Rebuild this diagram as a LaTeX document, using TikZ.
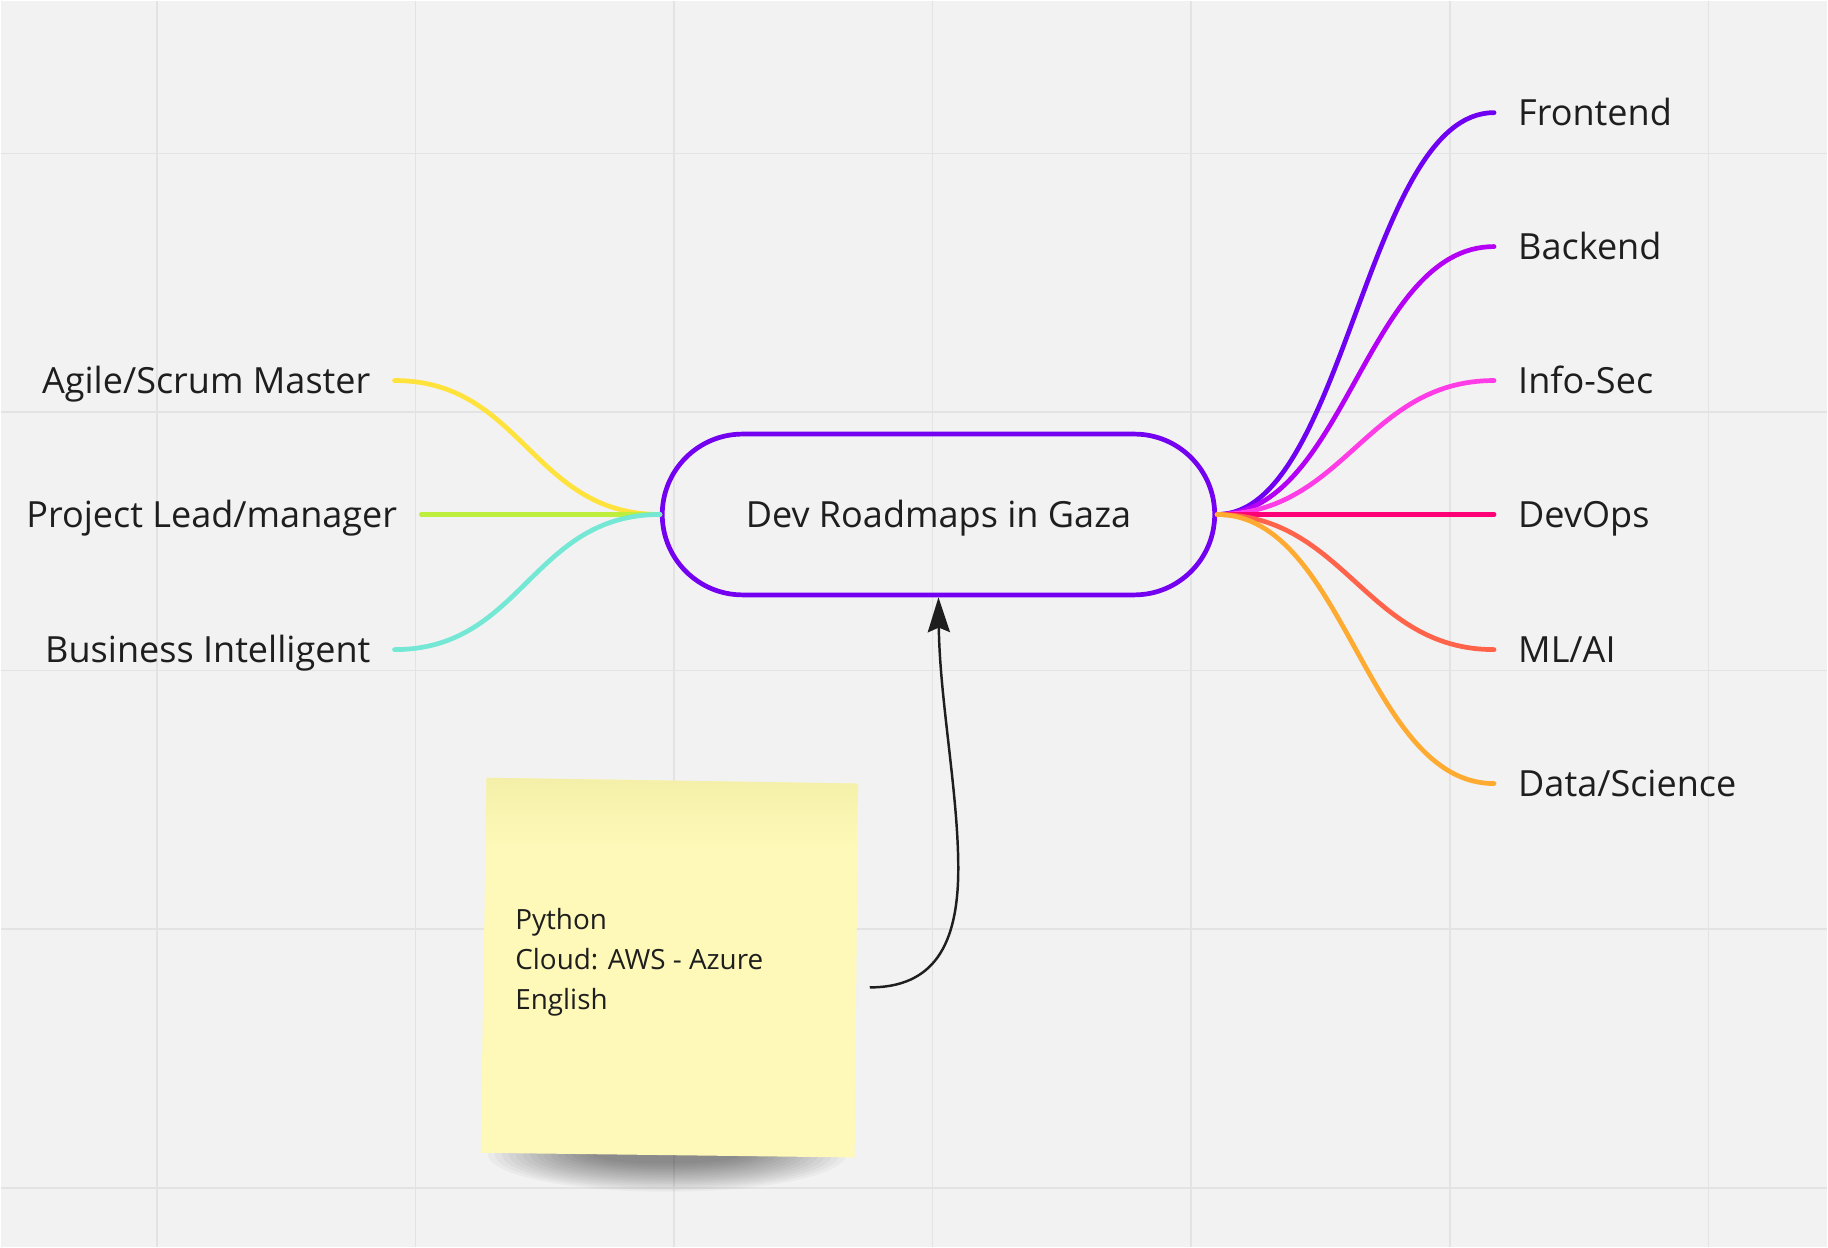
\documentclass[tikz,border=0pt]{standalone}
\usepackage{fontspec}
\setmainfont{Open Sans}
\usepackage{xcolor}
\usepackage{tikz}
\usetikzlibrary{arrows.meta,positioning}
\definecolor{board}{HTML}{F2F2F2}
\definecolor{gridline}{HTML}{E3E3E3}
\definecolor{ink}{HTML}{1E1E1E}
\definecolor{cdev}{HTML}{7300F0}
\definecolor{cfront}{HTML}{7000F2}
\definecolor{cback}{HTML}{B400F5}
\definecolor{csec}{HTML}{FF3CE6}
\definecolor{cops}{HTML}{FF0077}
\definecolor{cml}{HTML}{FF634A}
\definecolor{cdata}{HTML}{FFAA30}
\definecolor{cagile}{HTML}{FFE23C}
\definecolor{clead}{HTML}{BEEF3E}
\definecolor{cbi}{HTML}{74E8D4}
\definecolor{cnote}{HTML}{FEF9B8}
\definecolor{cnotetop}{HTML}{F4EFA8}

\begin{document}
\begin{tikzpicture}[x=0.01cm, y=-0.01cm,
    branch/.style={line width=1.15pt, line cap=round},
    leaf/.style={font=\fontsize{8.8}{10}\selectfont, text=ink, inner xsep=0.2cm, inner ysep=0pt, text height=6.2pt, text depth=0pt}]
    % board with grid
    \fill[board] (0,0) rectangle (1568,1070);
    \foreach \gx in {134,356,...,1466} \draw[gridline, line width=0.4pt] (\gx,0) -- (\gx,1070);
    \foreach \gy in {131,353,...,1019} \draw[gridline, line width=0.4pt] (0,\gy) -- (1568,\gy);

    \node[draw=cdev, line width=1.15pt, rounded corners=0.69cm, minimum width=4.74cm, minimum height=1.38cm, font=\fontsize{8.8}{10}\selectfont, text=ink, text height=6.2pt, text depth=0pt] (dev) at (805,441) {Dev Roadmaps in Gaza};

    % right branches
    \node[leaf, anchor=west] (front) at (1282,96) {Frontend};
    \node[leaf, anchor=west] (back) at (1282,211) {Backend};
    \node[leaf, anchor=west] (sec) at (1282,326) {Info-Sec};
    \node[leaf, anchor=west] (ops) at (1282,441) {DevOps};
    \node[leaf, anchor=west] (ml) at (1282,557) {ML/AI};
    \node[leaf, anchor=west] (data) at (1282,672) {Data/Science};
    \draw[branch, cfront] (dev.east) .. controls +(110,0) and +(-110,0) .. (front.west);
    \draw[branch, cback] (dev.east) .. controls +(110,0) and +(-110,0) .. (back.west);
    \draw[branch, csec] (dev.east) .. controls +(110,0) and +(-110,0) .. (sec.west);
    \draw[branch, cops] (dev.east) -- (ops.west);
    \draw[branch, cml] (dev.east) .. controls +(110,0) and +(-110,0) .. (ml.west);
    \draw[branch, cdata] (dev.east) .. controls +(110,0) and +(-110,0) .. (data.west);

    % left branches
    \node[leaf, anchor=east] (agile) at (338,326) {Agile/Scrum Master};
    \node[leaf, anchor=east] (lead) at (361,441) {Project Lead/manager};
    \node[leaf, anchor=east] (bi) at (338,557) {Business Intelligent};
    \draw[branch, cagile] (agile.east) .. controls +(110,0) and +(-110,0) .. (dev.west);
    \draw[branch, clead] (lead.east) -- (dev.west);
    \draw[branch, cbi] (bi.east) .. controls +(110,0) and +(-110,0) .. (dev.west);

    % sticky note
    \foreach \r in {1,...,16}
        \fill[black, opacity=0.03] (572,990) ellipse ({160-6*\r} and {34-1.6*\r});
    \fill[cnote] (417,667) -- (736,672) -- (733,993) -- (412,989) -- cycle;
    \shade[top color=cnotetop, bottom color=cnote] (417,667) -- (736,672) -- (735,728) -- (416,724) -- cycle;
    \node[font=\fontsize{6.8}{9.8}\selectfont, text=ink, align=left, inner sep=0pt, anchor=base west] (stack) at (441,866) {Python\\Cloud: AWS - Azure\\English};
    \coordinate (pin) at (746,847);
    \draw[-{Stealth[length=0.3cm, width=0.19cm, inset=0.04cm]}, line width=0.6pt, ink] (pin) .. controls (800,847) and (822,812) .. (822,745) .. controls (822,680) and (806,600) .. (dev.south);
\end{tikzpicture}
\end{document}
